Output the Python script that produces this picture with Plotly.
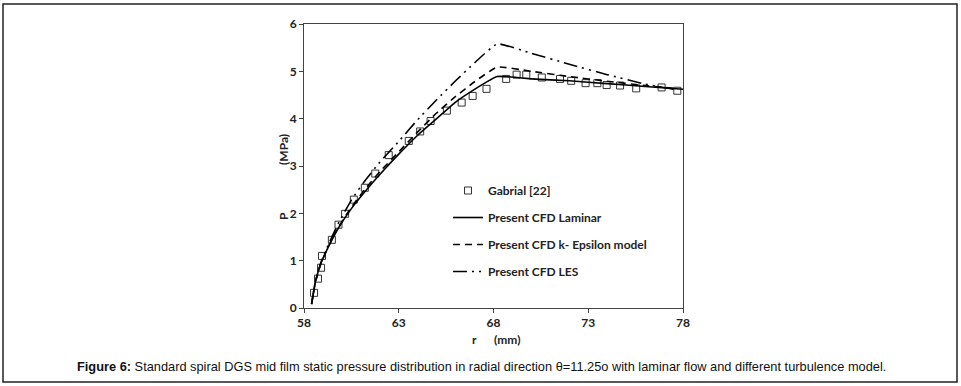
import plotly.graph_objects as go

# Experimental data (Gabrial [22])
exp_r = [58.53, 58.74, 58.90, 58.95, 59.47, 59.82, 60.17, 60.63, 61.21, 61.76,
         62.47, 63.53, 64.13, 64.68, 65.54, 66.32, 66.90, 67.63, 68.67, 69.22,
         69.73, 70.55, 71.51, 72.10, 72.86, 73.48, 73.97, 74.68, 75.53, 76.87, 77.70]
exp_p = [0.32, 0.62, 0.85, 1.10, 1.44, 1.76, 1.99, 2.29, 2.54, 2.84,
         3.23, 3.53, 3.73, 3.95, 4.17, 4.34, 4.48, 4.63, 4.84, 4.93,
         4.93, 4.87, 4.84, 4.80, 4.75, 4.75, 4.71, 4.70, 4.64, 4.66, 4.59]

# CFD Laminar
lam_r = [58.4, 58.6, 58.9, 59.3, 59.8, 60.5, 61.2, 62.0, 63.0, 64.0, 65.0, 66.0, 67.0, 68.2, 70.0, 72.0, 74.0, 76.0, 78.0]
lam_p = [0.08, 0.55, 0.95, 1.30, 1.68, 2.10, 2.45, 2.82, 3.25, 3.65, 4.00, 4.35, 4.62, 4.89, 4.84, 4.80, 4.74, 4.68, 4.62]

# CFD k-Epsilon
ke_r = [58.4, 58.6, 58.9, 59.3, 59.8, 60.5, 61.2, 62.0, 63.0, 64.0, 65.0, 66.0, 67.0, 68.2, 70.0, 72.0, 74.0, 76.0, 77.5]
ke_p = [0.08, 0.55, 0.95, 1.31, 1.70, 2.13, 2.50, 2.88, 3.30, 3.72, 4.12, 4.47, 4.78, 5.09, 5.00, 4.89, 4.79, 4.70, 4.64]

# CFD LES
les_r = [58.4, 58.6, 58.9, 59.3, 59.8, 60.5, 61.2, 62.0, 63.0, 64.0, 65.0, 66.0, 67.0, 68.2, 70.0, 72.0, 74.0, 76.0, 77.5]
les_p = [0.08, 0.55, 0.97, 1.35, 1.78, 2.28, 2.68, 3.08, 3.52, 3.98, 4.40, 4.80, 5.18, 5.58, 5.38, 5.15, 4.93, 4.73, 4.62]

x_ticks = [58, 63, 68, 73, 78]
y_ticks = [0, 1, 2, 3, 4, 5, 6]

caption = ("<b>Figure 6:</b> Standard spiral DGS mid film static pressure distribution in radial "
           "direction \u03b8=11.25o with laminar flow and different turbulence model.")

W, H = 961, 386
L, R, T, B = 304, 683, 24, 308


def px(x):
    return (x - L) / (R - L)


def py(y):
    return (B - y) / (B - T)


fig = go.Figure()
fig.add_trace(go.Scatter(x=exp_r, y=exp_p, mode="markers", name="Gabrial [22]",
                         legendgroup="a",
                         marker=dict(symbol="square-open", size=7, color="#333",
                                     line=dict(width=1, color="#333"))))
fig.add_trace(go.Scatter(x=lam_r, y=lam_p, mode="lines", name="Present CFD Laminar",
                         legendgroup="b", line=dict(color="black", width=1.6, shape="spline", smoothing=0.4)))
fig.add_trace(go.Scatter(x=ke_r, y=ke_p, mode="lines", name="Present CFD k- Epsilon model",
                         legendgroup="c",
                         line=dict(color="black", width=1.6, dash="7px,5px", shape="spline", smoothing=0.4)))
fig.add_trace(go.Scatter(x=les_r, y=les_p, mode="lines", name="Present CFD LES",
                         legendgroup="d",
                         line=dict(color="black", width=1.6, dash="14px,5px,2px,5px,2px,5px",
                                   shape="spline", smoothing=0.4)))

tick_font = dict(family="Lato", size=12, color="#222", weight="bold")
lab_font = dict(family="Lato", size=12, color="#222", weight="bold")

fig.update_layout(
    width=W, height=H,
    margin=dict(l=L, r=W - R, t=T, b=H - B, pad=0),
    paper_bgcolor="white", plot_bgcolor="white",
    showlegend=True,
    legend=dict(x=px(448), y=py(176), xanchor="left", yanchor="top",
                bgcolor="rgba(0,0,0,0)", tracegroupgap=8,
                font=lab_font),
    xaxis=dict(range=[58, 78], tickvals=x_ticks, ticktext=[str(v) for v in x_ticks],
               showgrid=False, zeroline=False, showline=True, linecolor="#444", linewidth=1,
               mirror=True, ticks="outside", ticklen=4, tickcolor="#444",
               tickfont=tick_font),
    yaxis=dict(range=[0, 6], tickvals=y_ticks, ticktext=[str(v) for v in y_ticks],
               showgrid=False, zeroline=False, showline=True, linecolor="#444", linewidth=1,
               mirror=True, ticks="outside", ticklen=4, tickcolor="#444",
               tickfont=tick_font),
    font=dict(family="Lato"),
)

# axis titles (split to reproduce the wide gaps)
fig.add_annotation(xref="paper", yref="paper", x=px(283), y=py(216), xanchor="center", yanchor="middle",
                   text="P", textangle=-90, showarrow=False, font=lab_font)
fig.add_annotation(xref="paper", yref="paper", x=px(283), y=py(150), xanchor="center", yanchor="middle",
                   text="(MPa)", textangle=-90, showarrow=False, font=lab_font)
fig.add_annotation(xref="paper", yref="paper", x=px(474), y=py(339), xanchor="center", yanchor="middle",
                   text="r", showarrow=False, font=lab_font)
fig.add_annotation(xref="paper", yref="paper", x=px(507), y=py(339), xanchor="center", yanchor="middle",
                   text="(mm)", showarrow=False, font=lab_font)
fig.add_annotation(xref="paper", yref="paper", x=px(481), y=py(366), xanchor="center", yanchor="middle",
                   text=caption, showarrow=False,
                   font=dict(family="Liberation Sans Narrow, Arial Narrow, Liberation Sans", size=12.8, color="#111"))

# outer frame
fig.add_shape(type="path", xref="paper", yref="paper",
              path="M {x0},{y0} L {x1},{y0} L {x1},{y1} L {x0},{y1} Z".format(
                  x0=px(3), x1=px(957), y0=py(4), y1=py(382)),
              line=dict(color="#222", width=1.5))

fig.write_html("out.html", config={"displayModeBar": False},
               post_script="document.body.style.margin='0';")
